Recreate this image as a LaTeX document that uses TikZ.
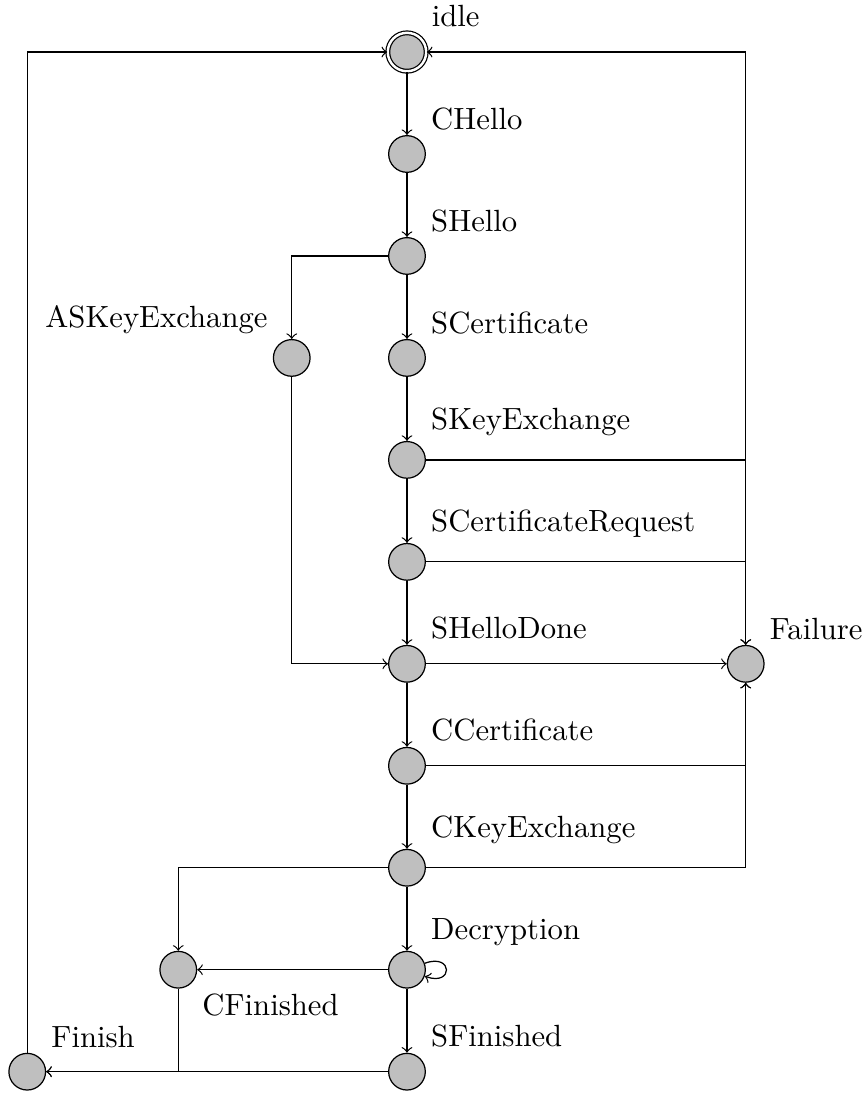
\documentclass[tikz,border=0pt]{standalone}
\usepackage{tikz}

\begin{document}
\begin{tikzpicture}[y=1.168cm,
    stnode/.style={circle, draw, fill=gray!50, minimum size=0.42cm, inner sep=0pt},
    startnode/.style={stnode, minimum size=0.44cm, double, double distance=0.8pt}]

    % Fix the page size
    \useasboundingbox (-4.662cm,0.596cm) rectangle (5.258cm,-11.947cm);

    % Draw states
    \node[startnode, label=above right:idle] (idle) at (0,0) {};
    \node[stnode, label=above right:CHello] (chello) at (0,-1) {};
    \node[stnode, label=above right:SHello] (shello) at (0,-2) {};
    \node[stnode, label=above left:ASKeyExchange] (askey) at (-1.32,-3) {};
    \node[stnode, label=above right:SCertificate] (scert) at (0,-3) {};
    \node[stnode, label=above right:SKeyExchange] (skey) at (0,-4) {};
    \node[stnode, label=above right:SCertificateRequest] (screq) at (0,-5) {};
    \node[stnode, label=above right:SHelloDone] (shdone) at (0,-6) {};
    \node[stnode, label=above right:Failure] (fail) at (3.88,-6) {};
    \node[stnode, label=above right:CCertificate] (ccert) at (0,-7) {};
    \node[stnode, label=above right:CKeyExchange] (ckey) at (0,-8) {};
    \node[stnode, label=above right:Decryption] (decr) at (0,-9) {};
    \node[stnode, label=below right:CFinished] (cfin) at (-2.62,-9) {};
    \node[stnode, label=above right:SFinished] (sfin) at (0,-10) {};
    \node[stnode, label=above right:Finish] (finish) at (-4.35,-10) {};

    % Draw main handshake chain
    \draw[->] (idle) -- (chello);
    \draw[->] (chello) -- (shello);
    \draw[->] (shello) -- (scert);
    \draw[->] (scert) -- (skey);
    \draw[->] (skey) -- (screq);
    \draw[->] (screq) -- (shdone);
    \draw[->] (shdone) -- (ccert);
    \draw[->] (ccert) -- (ckey);
    \draw[->] (ckey) -- (decr);
    \draw[->] (decr) -- (sfin);

    % Draw side branch
    \draw[->] (shello) -| (askey);
    \draw[->] (askey) |- (shdone);

    % Draw failure transitions
    \draw[->] (shdone) -- (fail);
    \draw[->] (skey) -| (fail);
    \draw[->] (screq) -| (fail);
    \draw[->] (ccert) -| (fail);
    \draw[->] (ckey) -| (fail);
    \draw[->] (fail) |- (idle);

    % Draw finishing part
    \draw[->] (ckey) -| (cfin);
    \draw[->] (decr) -- (cfin);
    \draw[->] (decr) to [loop right, out=20, in=-20, min distance=3.5mm] (decr);
    \draw[->] (sfin) -- (finish);
    \draw[->] (cfin) |- (finish);
    \draw[->] (finish) |- (idle);
\end{tikzpicture}
\end{document}
